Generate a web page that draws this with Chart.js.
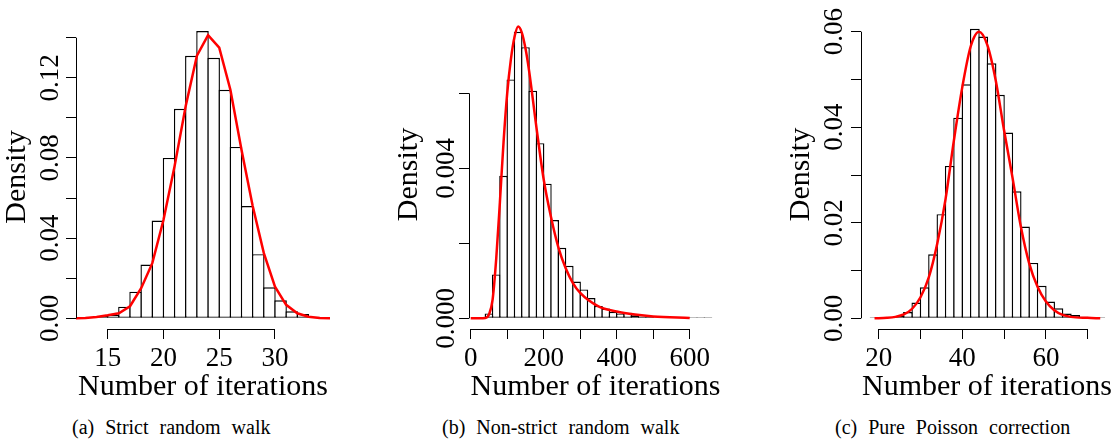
<!DOCTYPE html>
<html>
<head>
<meta charset="utf-8">
<script src="https://cdn.jsdelivr.net/npm/chart.js@4.4.1/dist/chart.umd.min.js"></script>
<style>
  body { margin: 0; background: #fff; width: 1118px; height: 442px; position: relative; overflow: hidden; }
  canvas { position: absolute; top: 0; }
  .caption { position: absolute; top: 417px; font: 20px "Liberation Serif", serif; line-height: 20px; word-spacing: 6px; white-space: nowrap; color: #000; }
</style>
</head>
<body>
<canvas id="chartA" width="373" height="410" style="left:0"></canvas>
<canvas id="chartB" width="373" height="410" style="left:373px"></canvas>
<canvas id="chartC" width="372" height="410" style="left:746px"></canvas>
<div class="caption" style="left:72px">(a) Strict random walk</div>
<div class="caption" style="left:442px">(b) Non-strict random walk</div>
<div class="caption" style="left:835px">(c) Pure Poisson correction</div>

<script>
// (a) strict random walk, bins of width 1 (left edges)
const binsA = [14, 15, 16, 17, 18, 19, 20, 21, 22, 23, 24, 25, 26, 27, 28, 29, 30, 31, 32, 33];
const densA = [0.0012, 0.0018, 0.0058, 0.0133, 0.0268, 0.0488, 0.080, 0.1045, 0.131, 0.1433,
               0.130, 0.114, 0.0855, 0.056, 0.032, 0.0155, 0.009, 0.0035, 0.0022, 0.0008];
const curveXA = [12, 13, 14, 15, 16, 17, 18, 19, 20, 21, 22, 23, 24, 25, 26, 27, 28, 29, 30, 31, 32, 33, 34, 35];
const curveYA = [0, 0.0002, 0.0007, 0.0015, 0.0025, 0.006, 0.015, 0.0275, 0.049, 0.076, 0.106, 0.131,
                 0.1413, 0.135, 0.114, 0.084, 0.056, 0.0325, 0.0158, 0.0067, 0.0025, 0.0008, 0.0002, 0];
const xTicksA = [15, 20, 25, 30];
const xLabelsA = ['15', '20', '25', '30'];
const yTicksA = [0, 0.02, 0.04, 0.06, 0.08, 0.10, 0.12, 0.14];
const yLabelsA = ['0.00', '', '0.04', '', '0.08', '', '0.12', ''];

// (b) non-strict random walk, bins of width 20
const binsB = [40, 60, 80, 100, 120, 140, 160, 180, 200, 220, 240, 260, 280, 300, 320, 340,
               360, 380, 400, 420, 440, 460, 480, 500, 520, 540, 560, 580, 600, 620, 640];
const densB = [0.00013, 0.00117, 0.0038, 0.00637, 0.00764, 0.00723, 0.00607, 0.00467, 0.00359, 0.00262,
               0.00188, 0.0014, 0.00098, 0.00077, 0.00054, 0.00033, 0.00026, 0.00017, 0.00013, 0.00015,
               0.00008, 0.00005, 0.00004, 0.00003, 0.00003, 0.00003, 0.00003, 0.00003, 0.00003, 0.00003, 0.00003];
const curveXB = [0, 40, 50, 60, 70, 80, 90, 100, 110, 120, 130, 140, 150, 160, 180, 200, 220, 240,
                 260, 280, 300, 350, 400, 450, 500, 600];
const curveYB = [0, 0.00001, 0.0001, 0.0005, 0.0016, 0.0031, 0.0047, 0.0060, 0.0069, 0.0075, 0.00778,
                 0.00762, 0.0072, 0.0066, 0.0051, 0.0037, 0.0027, 0.0019, 0.00134, 0.00094, 0.00068,
                 0.00032, 0.00018, 0.0001, 0.00005, 0.00001];
const xTicksB = [0, 100, 200, 300, 400, 500, 600];
const xLabelsB = ['0', '', '200', '', '400', '', '600'];
const yTicksB = [0, 0.002, 0.004, 0.006];
const yLabelsB = ['0.000', '', '0.004', ''];

// (c) pure Poisson correction, bins of width 2
const binsC = [18, 20, 22, 24, 26, 28, 30, 32, 34, 36, 38, 40, 42, 44, 46, 48, 50, 52, 54, 56,
               58, 60, 62, 64, 66, 68, 70, 72];
const densC = [0.0002, 0.0002, 0.0002, 0.0005, 0.0013, 0.0033, 0.0065, 0.0134, 0.0218, 0.0319,
               0.042, 0.049, 0.0606, 0.059, 0.0534, 0.0468, 0.0389, 0.0266, 0.0192, 0.0116,
               0.0068, 0.0035, 0.0021, 0.001, 0.0007, 0.0003, 0.0002, 0.0002];
const curveXC = [19, 22, 24, 26, 28, 30, 32, 34, 36, 38, 40, 42, 44, 46, 48, 50, 52, 54, 56, 58,
                 60, 62, 64, 66, 70, 73];
const curveYC = [0, 0.0001, 0.0003, 0.0008, 0.002, 0.0044, 0.0086, 0.0156, 0.025, 0.0373, 0.0484,
                 0.0569, 0.060, 0.0572, 0.0498, 0.0393, 0.0295, 0.0192, 0.0115, 0.0066, 0.0035,
                 0.0017, 0.0007, 0.0003, 0.0001, 0];
const xTicksC = [20, 30, 40, 50, 60, 70];
const xLabelsC = ['20', '', '40', '', '60', ''];
const yTicksC = [0, 0.01, 0.02, 0.03, 0.04, 0.05, 0.06];
const yLabelsC = ['0.00', '', '0.02', '', '0.04', '', '0.06'];

Chart.defaults.font.family = '"Liberation Serif", "Times New Roman", serif';
Chart.defaults.color = '#000';

// R style axis lines: only from first to last tick
const rAxisLines = {
    id: 'rAxisLines',
    afterDraw(chart) {
        const { ctx, chartArea, scales } = chart;
        const xs = scales.x, ys = scales.y;
        const yb = Math.round(chartArea.bottom - 0.5) + 0.5;
        const xl = Math.round(chartArea.left - 0.5) + 0.5;
        ctx.save();
        ctx.strokeStyle = '#000';
        ctx.lineWidth = 1;
        ctx.beginPath();
        ctx.moveTo(xs.getPixelForValue(xs.ticks[0].value), yb);
        ctx.lineTo(xs.getPixelForValue(xs.ticks[xs.ticks.length - 1].value), yb);
        ctx.moveTo(xl, ys.getPixelForValue(ys.ticks[0].value));
        ctx.lineTo(xl, ys.getPixelForValue(ys.ticks[ys.ticks.length - 1].value));
        ctx.stroke();
        ctx.restore();
    }
};

function makeHist(id, p) {
    const bars = p.bins.map((b, i) => ({ x: b + p.binWidth / 2, y: p.dens[i] }));
    const curve = p.curveX.map((x, i) => ({ x: x, y: p.curveY[i] }));

    new Chart(document.getElementById(id), {
        type: 'bar',
        data: {
            datasets: [
                {
                    type: 'bar',
                    data: bars,
                    backgroundColor: '#fff',
                    borderColor: '#000',
                    borderWidth: 1.4,
                    borderSkipped: false,
                    barPercentage: p.barPct,
                    categoryPercentage: 1,
                    order: 2
                },
                {
                    type: 'line',
                    data: curve,
                    borderColor: '#ff0000',
                    borderWidth: 2.5,
                    pointRadius: 0,
                    fill: false,
                    tension: p.smooth ? 0.4 : 0,
                    cubicInterpolationMode: p.smooth ? 'monotone' : 'default',
                    order: 1
                }
            ]
        },
        options: {
            responsive: false,
            animation: false,
            events: [],
            layout: { padding: p.pad },
            plugins: { legend: { display: false }, tooltip: { enabled: false } },
            scales: {
                x: {
                    type: 'linear',
                    offset: false,
                    min: p.xMin,
                    max: p.xMax,
                    afterBuildTicks: s => { s.ticks = p.xTicks.map(v => ({ value: v })); },
                    afterFit: s => { s.height = 81; s.paddingLeft = 0; s.paddingRight = 0; },
                    border: { display: false },
                    grid: { display: true, drawOnChartArea: false, drawTicks: true, tickLength: 10, color: '#000', lineWidth: 1, offset: false },
                    ticks: {
                        autoSkip: false,
                        maxRotation: 0,
                        padding: 6,
                        font: { size: 27, lineHeight: 1 },
                        callback: (v, i) => p.xLabels[i]
                    },
                    title: {
                        display: true,
                        text: 'Number of iterations',
                        font: { size: 30, lineHeight: 1 },
                        padding: { top: 0, bottom: 7.5 }
                    }
                },
                y: {
                    type: 'linear',
                    min: p.yMin,
                    max: p.yMax,
                    afterBuildTicks: s => { s.ticks = p.yTicks.map(v => ({ value: v })); },
                    afterFit: s => { s.width = p.yW; s.paddingTop = 0; s.paddingBottom = 0; },
                    border: { display: false },
                    grid: { display: true, drawOnChartArea: false, drawTicks: true, tickLength: 10, color: '#000', lineWidth: 1 },
                    ticks: {
                        autoSkip: false,
                        minRotation: 90,
                        maxRotation: 90,
                        crossAlign: 'center',
                        padding: p.yTickPad,
                        font: { size: 27, lineHeight: 1 },
                        callback: (v, i) => p.yLabels[i]
                    },
                    title: {
                        display: true,
                        text: 'Density',
                        font: { size: 30, lineHeight: 1 },
                        padding: { top: p.yTitlePad, bottom: 0 }
                    }
                }
            }
        },
        plugins: [rAxisLines]
    });
}

makeHist('chartA', {
    bins: binsA, dens: densA, binWidth: 1, curveX: curveXA, curveY: curveYA, smooth: false,
    xTicks: xTicksA, xLabels: xLabelsA, yTicks: yTicksA, yLabels: yLabelsA,
    xMin: 12.158, xMax: 34.932, yMin: -0.00534, yMax: 0.14633,
    pad: { left: 0, right: 43, top: 25, bottom: 0 }, yW: 76, yTickPad: -8.4, yTitlePad: 2.3, barPct: 1.1255
});
makeHist('chartB', {
    bins: binsB, dens: densB, binWidth: 20, curveX: curveXB, curveY: curveYB, smooth: true,
    xTicks: xTicksB, xLabels: xLabelsB, yTicks: yTicksB, yLabels: yLabelsB,
    xMin: -4.66, xMax: 688.5, yMin: -0.000285, yMax: 0.007955,
    pad: { left: 0, right: 24, top: 20, bottom: 0 }, yW: 96, yTickPad: -18.1, yTitlePad: 21, barPct: 1.192
});
makeHist('chartC', {
    bins: binsC, dens: densC, binWidth: 2, curveX: curveXC, curveY: curveYC, smooth: true,
    xTicks: xTicksC, xLabels: xLabelsC, yTicks: yTicksC, yLabels: yLabelsC,
    xMin: 15.766, xMax: 76.05, yMin: -0.00224, yMax: 0.06245,
    pad: { left: 0, right: 5, top: 20, bottom: 0 }, yW: 115, yTickPad: -7.8, yTitlePad: 39.8, barPct: 1.167
});
</script>
</body>
</html>
